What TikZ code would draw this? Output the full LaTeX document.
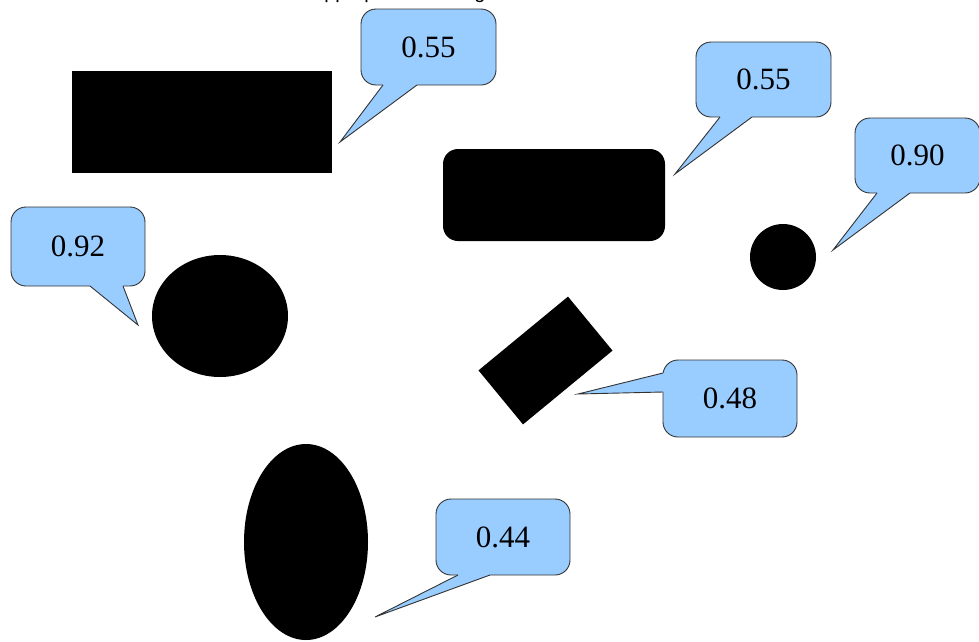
\documentclass[tikz,border=0pt]{standalone}
\usepackage{fontspec}
\setmainfont{Liberation Serif}
\newfontfamily\titlefont{Liberation Sans}
\usetikzlibrary{shapes.geometric,calc}
\definecolor{bubblefill}{HTML}{99CCFF}
\definecolor{bubbleline}{HTML}{333333}
\begin{document}
\begin{tikzpicture}[x=1pt,y=-1pt,
  blob/.style={fill=black,draw=none,inner sep=0pt,outer sep=0pt},
  bubble/.style={fill=bubblefill,draw=bubbleline,line width=0.9pt,rounded corners=15pt,inner sep=0pt,outer sep=0pt,font=\fontsize{31}{36}\selectfont},
  tailfill/.style={fill=bubblefill,draw=none},
  tailline/.style={draw=bubbleline,line width=0.9pt,line join=miter}]
\useasboundingbox (0,0) rectangle (979,641);
\clip (0,0) rectangle (979,641);
\fill[white] (0,0) rectangle (979,641);

% clipped heading (only descenders visible)
\node[anchor=base west,inner sep=0pt,font=\titlefont\fontsize{20}{24}\selectfont] (title) at (313,-1.5) {appropriate ranking};

% black shapes
\node[blob,rectangle,minimum width=260pt,minimum height=102pt] (rect1) at (202,122) {};
\node[blob,rectangle,rounded corners=15pt,minimum width=222pt,minimum height=92pt] (rrect) at (554,195) {};
\node[blob,circle,minimum size=66pt] (dot) at (783,257) {};
\node[blob,ellipse,minimum width=136pt,minimum height=122pt] (oval) at (220,316) {};
\node[blob,rectangle,rotate=39.5,minimum width=116pt,minimum height=70pt] (tilt) at (545.5,360.5) {};
\node[blob,ellipse,minimum width=124pt,minimum height=196pt] (tall) at (306,542) {};

% callout A
\node[bubble,minimum width=135pt,minimum height=76pt] (cA) at (428.5,47) {0.55};
\coordinate (tA) at (340,142);
\coordinate (aA1) at (383,85);
\coordinate (aA2) at (417,85);
\fill[tailfill] (tA) -- (aA1) -- ($(aA1)+(0,-3)$) -- ($(aA2)+(0,-3)$) -- (aA2) -- cycle;
\draw[tailline] (aA1) -- (tA) -- (aA2);

% callout B
\node[bubble,minimum width=135pt,minimum height=75pt] (cB) at (763.5,79.5) {0.55};
\coordinate (tB) at (675,174);
\coordinate (aB1) at (720,117);
\coordinate (aB2) at (752,117);
\fill[tailfill] (tB) -- (aB1) -- ($(aB1)+(0,-3)$) -- ($(aB2)+(0,-3)$) -- (aB2) -- cycle;
\draw[tailline] (aB1) -- (tB) -- (aB2);

% callout C
\node[bubble,minimum width=125pt,minimum height=75pt] (cC) at (917.5,155.5) {0.90};
\coordinate (tC) at (833,250);
\coordinate (aC1) at (877,193);
\coordinate (aC2) at (910,193);
\fill[tailfill] (tC) -- (aC1) -- ($(aC1)+(0,-3)$) -- ($(aC2)+(0,-3)$) -- (aC2) -- cycle;
\draw[tailline] (aC1) -- (tC) -- (aC2);

% callout D
\node[bubble,minimum width=134pt,minimum height=79pt] (cD) at (78,246.5) {0.92};
\coordinate (tD) at (138,325);
\coordinate (aD1) at (90,286);
\coordinate (aD2) at (123,286);
\fill[tailfill] (tD) -- (aD1) -- ($(aD1)+(0,-3)$) -- ($(aD2)+(0,-3)$) -- (aD2) -- cycle;
\draw[tailline] (aD1) -- (tD) -- (aD2);

% callout E
\node[bubble,minimum width=134pt,minimum height=77pt] (cE) at (730,398.5) {0.48};
\coordinate (tE) at (578,394);
\coordinate (aE1) at (663,373);
\coordinate (aE2) at (663,392);
\fill[tailfill] (tE) -- (aE1) -- ($(aE1)+(3,0)$) -- ($(aE2)+(3,0)$) -- (aE2) -- cycle;
\draw[tailline] (aE1) -- (tE) -- (aE2);

% callout F
\node[bubble,minimum width=134pt,minimum height=76pt] (cF) at (503,537) {0.44};
\coordinate (tF) at (375,617);
\coordinate (aF1) at (458,575);
\coordinate (aF2) at (490,575);
\fill[tailfill] (tF) -- (aF1) -- ($(aF1)+(0,-3)$) -- ($(aF2)+(0,-3)$) -- (aF2) -- cycle;
\draw[tailline] (aF1) -- (tF) -- (aF2);
\end{tikzpicture}
\end{document}
